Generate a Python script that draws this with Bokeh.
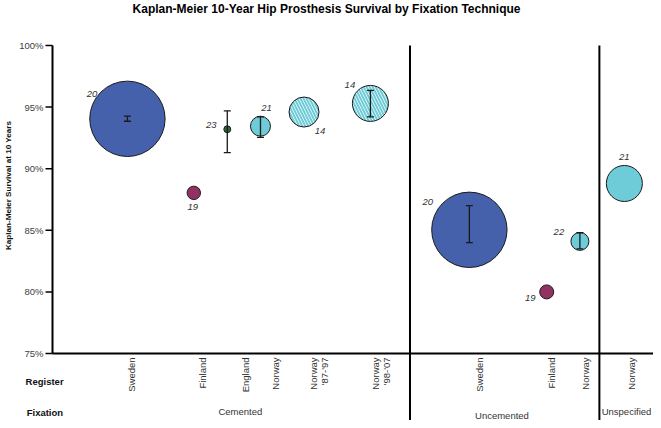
import math
from bokeh.plotting import figure
from bokeh.models import ColumnDataSource, Range1d, Whisker, TeeHead, Label
from bokeh.core.properties import value
from bokeh.embed import file_html
from bokeh.resources import INLINE

# ---------------- data ----------------
title_text = "Kaplan-Meier 10-Year Hip Prosthesis Survival by Fixation Technique"
y_title = "Kaplan-Meier Survival at 10 Years"
row_headers = ["Register", "Fixation"]
registers = ["Sweden", "Finland", "England", "Norway", "Norway\n'87-'97", "Norway\n'98-'07",
             "Sweden", "Finland", "Norway", "Norway"]
fixation = ["Cemented"] * 6 + ["Uncemented"] * 3 + ["Unspecified"]
fixation_groups = ["Cemented", "Uncemented", "Unspecified"]
survival = [94.05, 88.04, 93.2, 93.45, 94.6, 95.3, 85.04, 80.0, 84.1, 88.8]
ci_low = [93.85, None, 91.3, 92.55, None, 94.2, 84.0, None, 83.5, None]
ci_high = [94.26, None, 94.7, 94.2, None, 96.35, 87.0, None, 84.8, None]
point_labels = ["20", "19", "23", "21", "14", "14", "20", "19", "22", "21"]
bubble_area = [1421, 45, 12, 100, 225, 324, 1421, 49, 81, 324]
hatched = [False, False, False, False, True, True, False, False, False, False]
y_ticks = [75, 80, 85, 90, 95, 100]

# ---------------- layout / style ----------------
X0 = 0.0                                  # value-axis position on the category scale
bubble_x = [2.46, 4.64, 5.74, 6.83, 8.26, 10.44, 13.69, 16.23, 17.32, 18.78]
register_x = [2.59, 4.91, 6.34, 7.32, 8.74, 10.80, 14.02, 16.40, 17.50, 19.01]
group_bounds = [11.74, 17.96]
group_label_pos = [(6.17, 70.29), (14.76, 69.97), (18.85, 70.29)]
row_header_pos = [(-0.26, 72.69), (-0.25, 70.25)]
register_label_y = 74.68
label_offsets = [(-35.5, -25), (-1, 14), (-16, -4), (6, -18), (16, 19),
                 (-20.5, -18), (-41.5, -28), (-16.5, 6), (-21, -9), (0, -26)]
colors = {"Sweden": "#4561AC", "Finland": "#933262", "England": "#2E6B36", "Norway": "#6DCCD8"}
FONT = "Liberation Sans"
TXT = "#333333"

x_range = Range1d(-1.708, 19.737)
y_range = Range1d(69.562, 103.653)
p = figure(width=653, height=420, x_range=x_range, y_range=y_range,
           output_backend="svg", toolbar_location=None,
           x_axis_type=None, y_axis_type=None,
           min_border_left=0, min_border_right=0, min_border_top=0, min_border_bottom=0)
p.outline_line_color = None
p.background_fill_color = "white"
p.border_fill_color = "white"

# ---- value axis (drawn through the data scales) ----
p.segment(x0=[X0], y0=[y_ticks[0]], x1=[X0], y1=[y_ticks[-1]], line_width=2, line_color="black")
p.ray(x=[X0] * len(y_ticks), y=y_ticks, length=7, length_units="screen", angle=math.pi,
      line_width=1.5, line_color="black")
p.text(x=[X0] * len(y_ticks), y=y_ticks, text=[f"{t}%" for t in y_ticks], x_offset=-9,
       text_align="right", text_baseline="middle", text_font=value(FONT),
       text_font_size=value("9.5px"), text_color="#404040")
# category baseline
p.segment(x0=[X0], y0=[y_ticks[0]], x1=[x_range.end], y1=[y_ticks[0]], line_width=2,
          line_color="black")
# group dividers
p.segment(x0=group_bounds, y0=[y_ticks[-1]] * len(group_bounds), x1=group_bounds,
          y1=[y_range.start] * len(group_bounds), line_width=2, line_color="black")

# ---- bubbles ----
base_names = [r.split("\n")[0] for r in registers]
size = [2 * math.sqrt(a) for a in bubble_area]
solid = [i for i in range(len(survival)) if not hatched[i]]
hat = [i for i in range(len(survival)) if hatched[i]]
solid_src = ColumnDataSource(dict(x=[bubble_x[i] for i in solid], y=[survival[i] for i in solid],
                                  s=[size[i] for i in solid],
                                  c=[colors[base_names[i]] for i in solid]))
hat_src = ColumnDataSource(dict(x=[bubble_x[i] for i in hat], y=[survival[i] for i in hat],
                                s=[size[i] for i in hat],
                                c=[colors[base_names[i]] for i in hat]))
p.scatter("x", "y", size="s", source=solid_src, fill_color="c", line_color="#1a1a1a", line_width=1)
p.scatter("x", "y", size="s", source=hat_src, fill_color="white", line_color="#1a1a1a", line_width=1,
          hatch_pattern="\\", hatch_color="c", hatch_scale=6, hatch_weight=2)

# ---- error bars ----
ci_idx = [i for i in range(len(survival)) if ci_low[i] is not None]
ci_src = ColumnDataSource(dict(x=[bubble_x[i] for i in ci_idx], lo=[ci_low[i] for i in ci_idx],
                               hi=[ci_high[i] for i in ci_idx]))
w = Whisker(source=ci_src, base="x", lower="lo", upper="hi", dimension="height",
            line_width=1.3, line_color="#1a1a1a",
            upper_head=TeeHead(size=7, line_width=1.3, line_color="#1a1a1a"),
            lower_head=TeeHead(size=7, line_width=1.3, line_color="#1a1a1a"))
w.level = "overlay"
p.add_layout(w)

# ---- point labels ----
lab_src = ColumnDataSource(dict(x=bubble_x, y=survival, t=point_labels,
                                dx=[o[0] for o in label_offsets], dy=[o[1] for o in label_offsets]))
p.text("x", "y", text="t", source=lab_src, x_offset="dx", y_offset="dy",
       text_align="center", text_baseline="middle", text_font=value(FONT),
       text_font_size=value("9.5px"), text_font_style="italic", text_color=TXT)

# ---- register labels (rotated) ----
reg_src = ColumnDataSource(dict(x=register_x, y=[register_label_y] * len(register_x), t=registers))
p.text("x", "y", text="t", source=reg_src, angle=math.pi / 2,
       text_align="right", text_baseline="middle", text_font=value(FONT),
       text_font_size=value("9.5px"), text_color=TXT, text_line_height=1.0)

# ---- fixation group labels ----
grp_src = ColumnDataSource(dict(x=[g[0] for g in group_label_pos], y=[g[1] for g in group_label_pos],
                                t=fixation_groups))
p.text("x", "y", text="t", source=grp_src, text_align="center", text_baseline="middle",
       text_font=value(FONT), text_font_size=value("9.5px"), text_color=TXT)

# ---- row headers, title, value-axis title ----
hdr_src = ColumnDataSource(dict(x=[h[0] for h in row_header_pos], y=[h[1] for h in row_header_pos],
                                t=row_headers))
p.text("x", "y", text="t", source=hdr_src, text_align="center", text_baseline="middle",
       text_font=value(FONT), text_font_size=value("9.5px"), text_font_style="bold",
       text_color="#111111")
p.add_layout(Label(x=9.0, y=102.93, text=title_text, text_align="center", text_baseline="middle",
                   text_font=FONT, text_font_size="12px", text_font_style="bold",
                   text_color="#000000"))
p.add_layout(Label(x=-1.445, y=88.64, text=y_title, angle=math.pi / 2, text_align="center",
                   text_baseline="middle", text_font=FONT, text_font_size="8.1px",
                   text_font_style="bold", text_color="#111111"))

open("out.html", "w").write(file_html(p, INLINE))
